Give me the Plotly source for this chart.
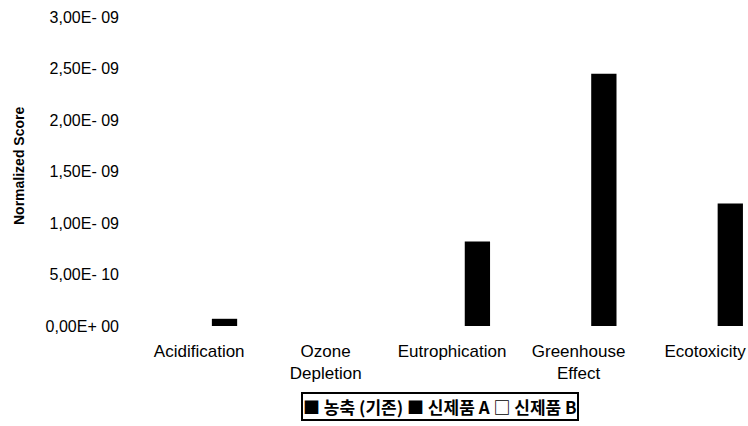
import plotly.graph_objects as go

# Impact categories and normalized scores for each product
categories = ["Acidification", "Ozone<br>Depletion", "Eutrophication", "Greenhouse<br>Effect", "Ecotoxicity"]
series_names = ["농축 (기존)", "신제품 A", "신제품 B"]
base_scores = [0, 0, 0, 0, 0]
product_a_scores = [0, 0, 0, 0, 0]
product_b_scores = [0.07e-9, 0.0, 0.82e-9, 2.45e-9, 1.19e-9]

tick_vals = [0, 0.5e-9, 1.0e-9, 1.5e-9, 2.0e-9, 2.5e-9, 3.0e-9]
tick_text = ["0,00E+ 00", "5,00E- 10", "1,00E- 09", "1,50E- 09", "2,00E- 09", "2,50E- 09", "3,00E- 09"]

FONT = "Liberation Sans, Arial, sans-serif"

# plot area in pixels: x 136..748, y 17..326
L, R, T, B = 136, 0, 17, 100
PW, PH = 748 - L - R, 426 - T - B

fig = go.Figure()
for name, vals in zip(series_names, [base_scores, product_a_scores, product_b_scores]):
    fig.add_trace(go.Bar(x=categories, y=vals, name=name,
                         marker=dict(color="#000000", line=dict(width=0)),
                         showlegend=False))

fig.update_layout(
    width=748, height=426,
    margin=dict(l=L, r=R, t=T, b=B),
    paper_bgcolor="white", plot_bgcolor="white",
    barmode="group", bargap=0.4, bargroupgap=0,
    font=dict(family=FONT, color="#000000"),
    xaxis=dict(range=[-0.5, 4.34], showgrid=False, showline=False, zeroline=False,
               tickfont=dict(size=17, family=FONT), ticks="", ticklabelstandoff=13),
    yaxis=dict(range=[0, 3.0e-9], tickvals=tick_vals, ticktext=tick_text,
               showgrid=False, showline=False, zeroline=False, ticks="",
               tickfont=dict(size=16, family=FONT), ticklabelstandoff=16),
    annotations=[
        dict(text="<b>Normalized Score</b>", textangle=-90, xref="paper", yref="paper",
             x=(19 - L) / PW, y=(426 - B - 166) / PH, xanchor="center", yanchor="middle",
             showarrow=False, font=dict(size=14, family=FONT)),
        dict(text="<b>■ 농축 (기존) ■ 신제품 A □ 신제품 B</b>", xref="paper", yref="paper",
             x=(440 - L) / PW, y=(426 - B - 407) / PH, xanchor="center", yanchor="middle",
             showarrow=False, bordercolor="#000000", borderwidth=2, borderpad=0,
             font=dict(size=17, family="Noto Sans CJK KR, " + FONT)),
    ],
)

fig.write_html("out.html")
